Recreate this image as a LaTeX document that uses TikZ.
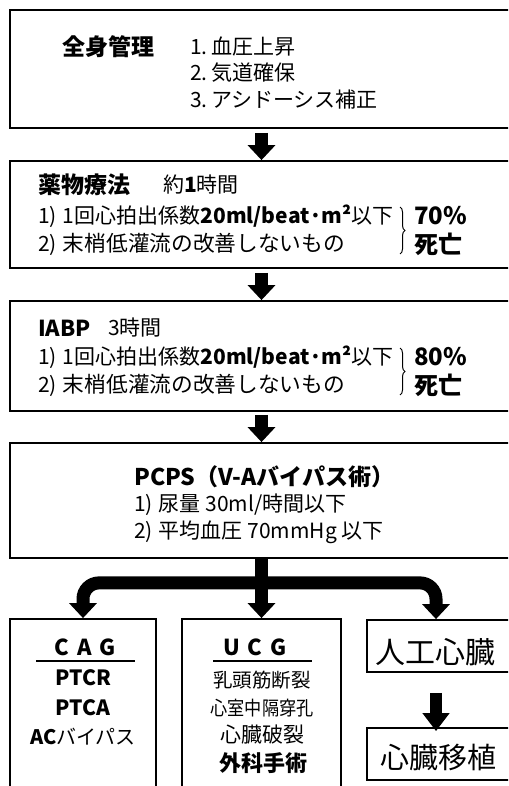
\documentclass[tikz,border=0pt]{standalone}
\usepackage{fontspec}
\setmainfont{Noto Sans CJK JP}
\usetikzlibrary{arrows.meta,decorations.pathreplacing,calc}
\newcommand\fsz[1]{\fontsize{#1}{#1}\selectfont}
\tikzset{
  box/.style={draw, line width=1.8pt, inner sep=0pt},
  bigarrow/.style={line width=13pt, -{Triangle[width=27pt,length=15pt]}},
  smallarrow/.style={line width=12pt, -{Triangle[width=26pt,length=18pt]}},
  lt/.style={inner sep=0pt, anchor=west},
  ct/.style={inner sep=0pt, anchor=center},
  bracestyle/.style={decorate, decoration={brace, amplitude=5pt}, line width=1pt},
}
\begin{document}
\begin{tikzpicture}[x=1pt,y=-1pt]
\clip (0,0) rectangle (508,786);
\fill[white] (0,0) rectangle (508,786);
% boxes
\node[box, minimum width=503pt, minimum height=118pt] (b1) at (261.5,69) {};
\node[box, minimum width=503pt, minimum height=107pt] (b2) at (261.5,214.5) {};
\node[box, minimum width=503pt, minimum height=110pt] (b3) at (261.5,356) {};
\node[box, minimum width=503pt, minimum height=115pt] (b4) at (261.5,500.5) {};
\node[box, minimum width=146pt, minimum height=201pt] (cag) at (83,719.5) {};
\node[box, minimum width=159pt, minimum height=201pt] (ucg) at (261.5,719.5) {};
\node[box, minimum width=146pt, minimum height=52pt] (ah) at (440,646) {};
\node[box, minimum width=146pt, minimum height=52pt] (tx) at (440,754) {};
% box 1
\node[lt, font={\fsz{23}\bfseries}] (t1a) at (62,47) {全身管理};
\node[lt, font=\fsz{21}] (t1b) at (190,47) {1.\,血圧上昇};
\node[lt, font=\fsz{21}] (t1c) at (190,73) {2.\,気道確保};
\node[lt, font=\fsz{21}] (t1d) at (190,100) {3.\,アシドーシス補正};
% box 2
\node[lt, font={\fsz{23}\bfseries}] (t2a) at (38,185) {薬物療法};
\node[lt, font=\fsz{21}] (t2b) at (163,185) {約\textbf{1}時間};
\node[lt, font=\fsz{21}] (t2c) at (38,216) {1)\hspace{6pt}1回心拍出係数\textbf{20ml/beat·m²}以下};
\node[lt, font=\fsz{21}] (t2d) at (38,244) {2)\hspace{6pt}{\fsz{21.7}末梢低灌流の改善しないもの}};
\draw[bracestyle] (400,207) -- (400,254);
\node[lt, font={\fsz{24}\bfseries}] (t2e) at (414,216) {70\%};
\node[lt, font={\fsz{24}\bfseries}] (t2f) at (414,244) {死亡};
% box 3
\node[lt, font={\fsz{22}\bfseries}] (t3a) at (38,328) {IABP};
\node[lt, font=\fsz{21}] (t3b) at (108,328) {3時間};
\node[lt, font=\fsz{21}] (t3c) at (38,357) {1)\hspace{6pt}1回心拍出係数\textbf{20ml/beat·m²}以下};
\node[lt, font=\fsz{21}] (t3d) at (38,385) {2)\hspace{6pt}{\fsz{21.7}末梢低灌流の改善しないもの}};
\draw[bracestyle] (400,348) -- (400,395);
\node[lt, font={\fsz{24}\bfseries}] (t3e) at (414,357) {80\%};
\node[lt, font={\fsz{24}\bfseries}] (t3f) at (414,385) {死亡};
% box 4
\node[lt, font={\fsz{23}\bfseries}] (t4a) at (134,477) {PCPS（V-Aバイパス術）};
\node[lt, font=\fsz{21}] (t4b) at (134,505) {1)\hspace{6pt}尿量 30ml/時間以下};
\node[lt, font=\fsz{21}] (t4c) at (134,532) {2)\hspace{6pt}平均血圧 70mmHg 以下};
% CAG box
\node[ct, font={\fsz{22}\bfseries}] (c1) at (85,647) {C\hspace{8pt}A\hspace{8pt}G};
\draw[line width=1.5pt] (36,661) -- (135,661);
\node[ct, font={\fsz{21}\bfseries}] (c2) at (83,678) {PTCR};
\node[ct, font={\fsz{21}\bfseries}] (c3) at (83,708) {PTCA};
\node[ct, font=\fsz{20}] (c4) at (83,737) {\textbf{AC}バイパス};
% UCG box
\node[ct, font={\fsz{22}\bfseries}] (u1) at (255,647) {U\hspace{8pt}C\hspace{8pt}G};
\draw[line width=1.5pt] (213,661) -- (312,661);
\node[ct, font=\fsz{19.5}] (u2) at (262,680) {乳頭筋断裂};
\node[ct, font=\fsz{19.5}] (u3) at (262,708) {\scalebox{0.88}[1]{心室中隔穿孔}};
\node[ct, font=\fsz{21}] (u4) at (262,735) {心臓破裂};
\node[ct, font={\fsz{22}\bfseries}] (u5) at (263,763) {外科手術};
% right boxes
\node[ct, font=\fsz{30}] (r1) at (435,652) {人工心臓};
\node[ct, font=\fsz{29}] (r2) at (438,757) {心臓移植};
% arrows
\draw[bigarrow] ([yshift=-4pt]b1.south) -- (b2.north);
\draw[bigarrow] ([yshift=-4pt]b2.south) -- (b3.north);
\draw[bigarrow] ([yshift=-3pt]b3.south) -- (b4.north);
\coordinate (j) at ($(b4.south)+(0,24)$);
\draw[bigarrow] (b4.south) -- (ucg.north);
\draw[bigarrow, rounded corners=16pt] (j) -| (cag.north);
\draw[bigarrow, rounded corners=16pt] (j) -| ([xshift=-4pt]ah.north);
\draw[smallarrow] ([xshift=-4pt,yshift=-20pt]ah.south) -- ([xshift=-4pt,yshift=-4pt]tx.north);
\end{tikzpicture}
\end{document}
